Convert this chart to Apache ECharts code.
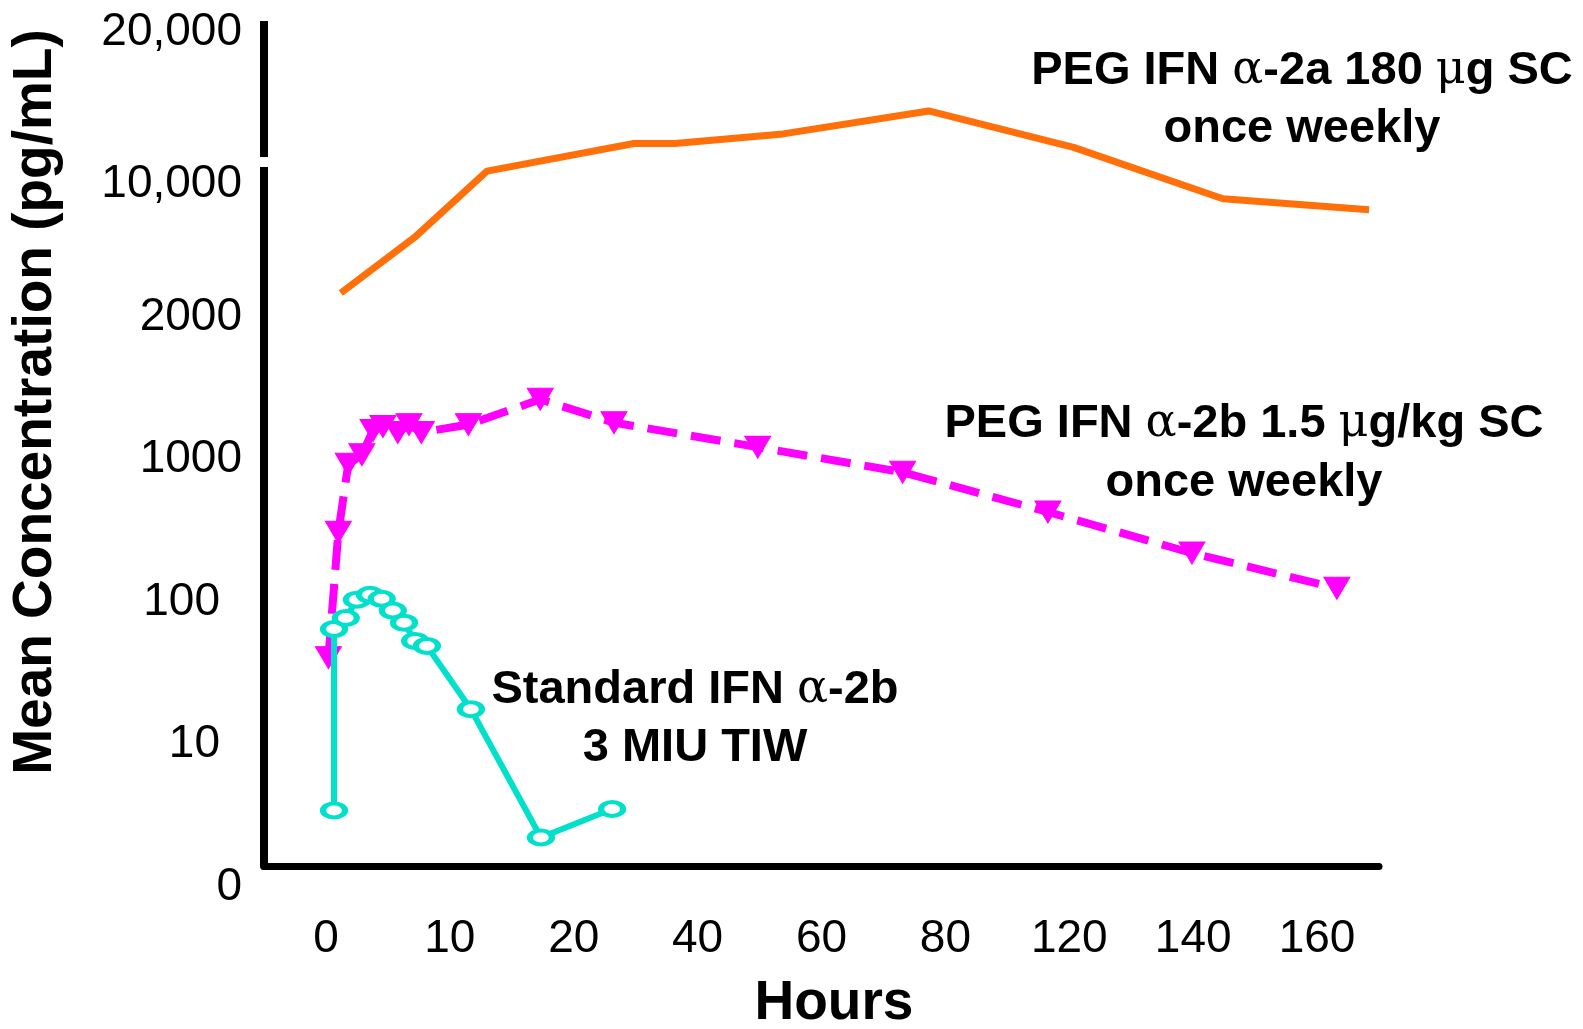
<!DOCTYPE html>
<html>
<head>
<meta charset="utf-8">
<script src="https://cdn.jsdelivr.net/npm/echarts@6/dist/echarts.min.js"></script>
<style>
  html, body { margin: 0; padding: 0; background: #fff; }
  #chart { width: 1583px; height: 1029px; }
</style>
</head>
<body>
<div id="chart"></div>
<script>
// tick labels of the two broken axes
var xTickHours = [0, 10, 20, 40, 60, 80, 120, 140, 160];
var yTickConc = [0, 10, 100, 1000, 2000, 10000, 20000];
var yTickText = ['0', '10', '100', '1000', '2000', '10,000', '20,000'];

// PEG IFN alpha-2a 180 ug SC once weekly
var pegAHours = [1.2, 7.2, 13.0, 29.7, 36.3, 53.8, 77.3, 120.7, 144.8, 168.4];
var pegAConc = [2070, 3900, 8200, 10500, 10500, 11000, 12300, 10300, 6000, 5300];

// PEG IFN alpha-2b 1.5 ug/kg SC once weekly
var pegBHours = [0.2, 1.0, 1.8, 2.9, 3.8, 4.6, 5.8, 6.7, 7.7, 11.5, 17.3, 26.5, 49.7, 73.1, 113.1, 139.8, 163.2];
var pegBConc = [29, 220, 660, 770, 1040, 1060, 1030, 1070, 1030, 1070, 1210, 1080, 870, 580, 305, 157, 89];

// Standard IFN alpha-2b 3 MIU TIW
var stdHours = [0.65, 0.65, 1.6, 2.5, 3.55, 4.5, 5.4, 6.3, 7.2, 8.15, 11.7, 17.35, 26.2];
var stdConc = [3.9, 46, 55, 74, 80, 75, 62, 51, 38, 35, 12.6, 2.0, 4.0];

// hours -> position on the evenly spaced x slots (piecewise linear)
function hourToSlot(h) {
  var t = xTickHours;
  for (var i = 0; i < t.length - 1; i++) {
    if (h <= t[i + 1] || i === t.length - 2) {
      return i + (h - t[i]) / (t[i + 1] - t[i]);
    }
  }
}
// concentration -> position on the evenly spaced y slots (linear below 10, log above)
function concToSlot(c) {
  var t = yTickConc;
  if (c <= t[1]) return c / t[1];
  for (var i = 1; i < t.length - 1; i++) {
    if (c <= t[i + 1] || i === t.length - 2) {
      return i + Math.log(c / t[i]) / Math.log(t[i + 1] / t[i]);
    }
  }
}
function pts(hours, conc) {
  return hours.map(function (h, i) { return [hourToSlot(h), concToSlot(conc[i])]; });
}

var FONT = '"Liberation Sans", Arial, sans-serif';
var GREEK = '"DejaVu Serif", serif';
var labelRich = {
  g: { fontFamily: GREEK, fontWeight: 'normal', fontSize: 46, color: '#000' }
};
function note(x, y, text) {
  return {
    type: 'text', x: x, y: y, z: 50,
    style: {
      text: text, rich: labelRich,
      font: 'bold 47px ' + FONT, fill: '#000',
      align: 'center', verticalAlign: 'middle'
    }
  };
}

var chart = echarts.init(document.getElementById('chart'));
chart.setOption({
  animation: false,
  backgroundColor: '#fff',
  grid: { left: 264, right: 204, top: 11, bottom: 163, containLabel: false },
  xAxis: {
    type: 'value', min: -0.5, max: 8.5,
    axisLine: { onZero: false, lineStyle: { color: '#000', width: 7 } },
    axisTick: { show: true, length: 4, lineStyle: { color: '#000', width: 3 },
      customValues: [0.5, 1.5, 2.5, 3.5, 4.5, 5.5, 6.5, 7.5] },
    axisLabel: {
      customValues: [0, 1, 2, 3, 4, 5, 6, 7, 8],
      formatter: function (v) { return String(xTickHours[Math.round(v)]); },
      fontFamily: FONT, fontSize: 46, color: '#000', margin: 50
    },
    splitLine: { show: false }
  },
  yAxis: {
    type: 'value', min: 0, max: 6,
    axisLine: { show: true, onZero: false, lineStyle: { color: '#000', width: 8 } },
    axisTick: { show: false },
    axisLabel: {
      customValues: [0, 1, 2, 3, 4, 5, 6],
      formatter: function (v) {
        var k = Math.round(v);
        if (k === 1 || k === 2) return '{n|' + yTickText[k] + '}';
        if (k === 5) return '{d|' + yTickText[k] + '}';
        return yTickText[k];
      },
      rich: {
        n: { fontFamily: FONT, fontSize: 46, color: '#000', padding: [0, 22, 0, 0] },
        d: { fontFamily: FONT, fontSize: 46, color: '#000', padding: [20, 0, 0, 0] }
      },
      fontFamily: FONT, fontSize: 46, color: '#000', margin: 22,
      padding: [42, 0, 0, 0]
    },
    splitLine: { show: false }
  },
  graphic: [
    { type: 'rect', z: 100, shape: { x: 255, y: 0, width: 18, height: 21 }, style: { fill: '#fff' } },
    { type: 'rect', z: 100, shape: { x: 255, y: 157, width: 18, height: 10 }, style: { fill: '#fff' } },
    note(1302, 71, 'PEG IFN {g|α}-2a 180 {g|μ}g SC'),
    note(1302, 129, 'once weekly'),
    note(1244, 424, 'PEG IFN {g|α}-2b 1.5 {g|μ}g/kg SC'),
    note(1244, 483, 'once weekly'),
    note(695, 690, 'Standard IFN {g|α}-2b'),
    note(695, 748, '3 MIU TIW'),
    {
      type: 'text', x: 36, y: 402, rotation: Math.PI / 2, z: 50,
      style: { text: 'Mean Concentration (pg/mL)', font: 'bold 55px ' + FONT, fill: '#000',
        align: 'center', verticalAlign: 'middle' }
    },
    {
      type: 'text', x: 834, y: 1004, z: 50,
      style: { text: 'Hours', font: 'bold 55px ' + FONT, fill: '#000',
        align: 'center', verticalAlign: 'middle' }
    }
  ],
  series: [
    {
      name: 'PEG IFN α-2a 180 μg SC once weekly',
      type: 'line', data: pts(pegAHours, pegAConc),
      showSymbol: false, symbol: 'none',
      lineStyle: { color: '#FF6F0A', width: 7 },
      z: 3
    },
    {
      name: 'PEG IFN α-2b 1.5 μg/kg SC once weekly',
      type: 'line', data: pts(pegBHours, pegBConc),
      symbol: 'triangle', symbolSize: [26, 22], symbolRotate: 180,
      itemStyle: { color: '#FF00FF', borderColor: '#FF00FF', borderWidth: 1 },
      lineStyle: { color: '#FF00FF', width: 8, type: [30, 14] },
      z: 4
    },
    {
      name: 'Standard IFN α-2b 3 MIU TIW',
      type: 'line', data: pts(stdHours, stdConc),
      symbol: 'circle', symbolSize: [22, 14],
      itemStyle: { color: '#fff', borderColor: '#00E0CA', borderWidth: 5 },
      lineStyle: { color: '#00E0CA', width: 6 },
      z: 5
    }
  ]
});
</script>
</body>
</html>
